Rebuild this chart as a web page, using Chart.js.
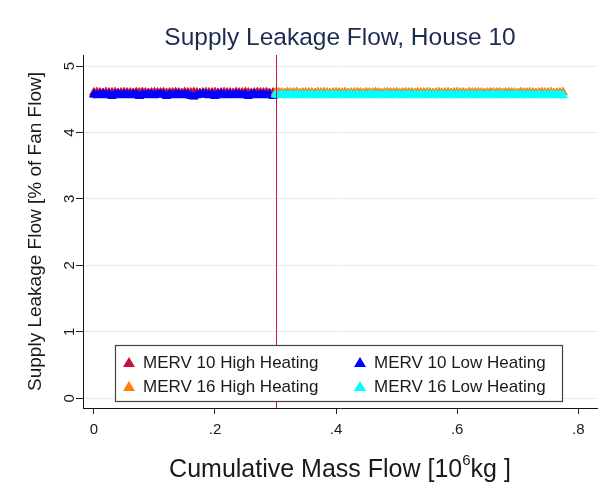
<!DOCTYPE html>
<html>
<head>
<meta charset="utf-8">
<script src="https://cdn.jsdelivr.net/npm/chart.js@4"></script>
<style>
  html, body { margin: 0; padding: 0; background: #fff; }
</style>
</head>
<body>
<canvas id="leakCanvas" width="603" height="504"></canvas>
<script>
const seriesNames = ["MERV 10 High Heating", "MERV 10 Low Heating", "MERV 16 High Heating", "MERV 16 Low Heating"]
const seriesColors = ["#c0143f", "#0000ff", "#ff7f0e", "#00ffff"]

// cumulative mass flow [10^6 kg]
const merv10X = [
    0, 0.005, 0.01, 0.015, 0.02, 0.025, 0.03, 0.035, 0.04, 0.045, 0.05, 0.055,
    0.06, 0.065, 0.07, 0.075, 0.08, 0.085, 0.09, 0.095, 0.10, 0.105, 0.11, 0.115,
    0.12, 0.125, 0.13, 0.135, 0.14, 0.145, 0.15, 0.155, 0.16, 0.165, 0.17, 0.175,
    0.18, 0.185, 0.19, 0.195, 0.20, 0.205, 0.21, 0.215, 0.22, 0.225, 0.23, 0.235,
    0.24, 0.245, 0.25, 0.255, 0.26, 0.265, 0.27, 0.275, 0.28, 0.285, 0.29, 0.296]
const merv16X = [
    0.30, 0.305, 0.31, 0.315, 0.32, 0.325, 0.33, 0.335, 0.34, 0.345, 0.35, 0.355,
    0.36, 0.365, 0.37, 0.375, 0.38, 0.385, 0.39, 0.395, 0.40, 0.405, 0.41, 0.415,
    0.42, 0.425, 0.43, 0.435, 0.44, 0.445, 0.45, 0.455, 0.46, 0.465, 0.47, 0.475,
    0.48, 0.485, 0.49, 0.495, 0.50, 0.505, 0.51, 0.515, 0.52, 0.525, 0.53, 0.535,
    0.54, 0.545, 0.55, 0.555, 0.56, 0.565, 0.57, 0.575, 0.58, 0.585, 0.59, 0.595,
    0.60, 0.605, 0.61, 0.615, 0.62, 0.625, 0.63, 0.635, 0.64, 0.645, 0.65, 0.655,
    0.66, 0.665, 0.67, 0.675, 0.68, 0.685, 0.69, 0.695, 0.70, 0.705, 0.71, 0.715,
    0.72, 0.725, 0.73, 0.735, 0.74, 0.745, 0.75, 0.755, 0.76, 0.765, 0.77, 0.775]

// supply leakage flow [% of fan flow]
const merv10HighY = [
    4.600, 4.605, 4.600, 4.595, 4.605, 4.600, 4.600, 4.605, 4.595, 4.600, 4.605, 4.600,
    4.600, 4.595, 4.605, 4.600, 4.605, 4.600, 4.595, 4.600, 4.605, 4.600, 4.600, 4.605,
    4.595, 4.600, 4.600, 4.605, 4.600, 4.595, 4.605, 4.600, 4.600, 4.605, 4.600, 4.595,
    4.600, 4.605, 4.600, 4.600, 4.605, 4.595, 4.600, 4.605, 4.600, 4.600, 4.595, 4.605,
    4.600, 4.600, 4.605, 4.600, 4.595, 4.600, 4.605, 4.600, 4.600, 4.605, 4.595, 4.600]
const merv10LowY = [
    4.57, 4.56, 4.57, 4.58, 4.56, 4.57, 4.55, 4.57, 4.58, 4.56, 4.57, 4.57,
    4.56, 4.58, 4.57, 4.55, 4.57, 4.56, 4.58, 4.57, 4.56, 4.57, 4.58, 4.57,
    4.55, 4.57, 4.56, 4.57, 4.58, 4.56, 4.57, 4.57, 4.55, 4.54, 4.56, 4.57,
    4.58, 4.57, 4.56, 4.57, 4.55, 4.57, 4.58, 4.56, 4.57, 4.57, 4.56, 4.58,
    4.57, 4.56, 4.57, 4.55, 4.57, 4.58, 4.56, 4.57, 4.57, 4.56, 4.57, 4.55]
const merv16HighY = [
    4.600, 4.605, 4.600, 4.595, 4.605, 4.600, 4.600, 4.605, 4.595, 4.600, 4.605, 4.600,
    4.600, 4.595, 4.605, 4.600, 4.605, 4.600, 4.595, 4.600, 4.605, 4.600, 4.600, 4.605,
    4.595, 4.600, 4.600, 4.605, 4.600, 4.595, 4.605, 4.600, 4.600, 4.605, 4.600, 4.595,
    4.600, 4.605, 4.600, 4.600, 4.605, 4.595, 4.600, 4.605, 4.600, 4.600, 4.595, 4.605,
    4.600, 4.600, 4.605, 4.600, 4.595, 4.600, 4.605, 4.600, 4.600, 4.605, 4.595, 4.600,
    4.605, 4.600, 4.600, 4.595, 4.605, 4.600, 4.600, 4.605, 4.600, 4.595, 4.600, 4.605,
    4.600, 4.600, 4.605, 4.595, 4.600, 4.605, 4.600, 4.600, 4.595, 4.605, 4.600, 4.600,
    4.605, 4.600, 4.595, 4.600, 4.605, 4.600, 4.600, 4.605, 4.595, 4.600, 4.600, 4.605]
const merv16LowY = [
    4.57, 4.56, 4.57, 4.57, 4.56, 4.57, 4.56, 4.57, 4.57, 4.56, 4.57, 4.56,
    4.57, 4.56, 4.57, 4.57, 4.56, 4.57, 4.56, 4.57, 4.57, 4.56, 4.57, 4.56,
    4.57, 4.57, 4.56, 4.57, 4.56, 4.57, 4.56, 4.57, 4.57, 4.56, 4.57, 4.56,
    4.57, 4.57, 4.56, 4.57, 4.56, 4.57, 4.56, 4.57, 4.57, 4.56, 4.57, 4.56,
    4.57, 4.56, 4.57, 4.57, 4.56, 4.57, 4.56, 4.57, 4.57, 4.56, 4.57, 4.56,
    4.57, 4.57, 4.56, 4.57, 4.56, 4.57, 4.56, 4.57, 4.57, 4.56, 4.57, 4.56,
    4.57, 4.56, 4.57, 4.57, 4.56, 4.57, 4.56, 4.57, 4.57, 4.56, 4.57, 4.56,
    4.57, 4.57, 4.56, 4.57, 4.56, 4.57, 4.56, 4.57, 4.57, 4.56, 4.57, 4.56]

const xTicks = [0, 0.2, 0.4, 0.6, 0.8]
const xTickLabels = ["0", ".2", ".4", ".6", ".8"]
const yTicks = [0, 1, 2, 3, 4, 5]
const filterSwitch = 0.3

const FONT = "'Liberation Sans', Arial, sans-serif"

function toPoints(xs, ys) {
    return xs.map((x, i) => ({ x: x, y: ys[i] }))
}

function triangle(ctx, cx, cy, w, h) {
    ctx.beginPath()
    ctx.moveTo(cx, cy - h / 2)
    ctx.lineTo(cx + w / 2, cy + h / 2)
    ctx.lineTo(cx - w / 2, cy + h / 2)
    ctx.closePath()
    ctx.fill()
}

const decorations = {
    id: "decorations",
    afterDatasetsDraw(chart) {
        const { ctx, chartArea: a, scales } = chart
        const xs = scales.x, ys = scales.y
        ctx.save()

        // filter change line
        const lx = Math.round(xs.getPixelForValue(filterSwitch)) + 0.5
        ctx.strokeStyle = "#c8174a"
        ctx.lineWidth = 1
        ctx.beginPath()
        ctx.moveTo(lx, a.top)
        ctx.lineTo(lx, a.bottom)
        ctx.stroke()

        // y tick labels, turned on their side
        ctx.fillStyle = "#1a1a1a"
        ctx.font = "15px " + FONT
        ctx.textAlign = "center"
        ctx.textBaseline = "middle"
        yTicks.forEach(v => {
            ctx.save()
            ctx.translate(70, ys.getPixelForValue(v))
            ctx.rotate(-Math.PI / 2)
            ctx.fillText(String(v), 0, 0)
            ctx.restore()
        })

        // y axis title
        ctx.save()
        ctx.font = "19px " + FONT
        ctx.translate(36, (a.top + a.bottom) / 2)
        ctx.rotate(-Math.PI / 2)
        ctx.fillText("Supply Leakage Flow [% of Fan Flow]", 0, 0)
        ctx.restore()

        // chart title
        const mid = (a.left + a.right) / 2
        ctx.fillStyle = "#1c2b50"
        ctx.font = "24.5px " + FONT
        ctx.fillText("Supply Leakage Flow, House 10", mid, 38)

        // x axis title with superscript
        ctx.fillStyle = "#1a1a1a"
        const p1 = "Cumulative Mass Flow [10", p2 = "6", p3 = "kg ]"
        ctx.font = "25px " + FONT
        const w1 = ctx.measureText(p1).width, w3 = ctx.measureText(p3).width
        ctx.font = "15px " + FONT
        const w2 = ctx.measureText(p2).width
        let tx = mid - (w1 + w2 + w3) / 2
        ctx.textAlign = "left"
        ctx.textBaseline = "alphabetic"
        ctx.font = "25px " + FONT
        ctx.fillText(p1, tx, 477)
        ctx.font = "15px " + FONT
        ctx.fillText(p2, tx + w1, 465)
        ctx.font = "25px " + FONT
        ctx.fillText(p3, tx + w1 + w2, 477)

        // legend
        const box = { l: 115, t: 345, r: 562, b: 401 }
        ctx.fillStyle = "#fff"
        ctx.fillRect(box.l, box.t, box.r - box.l, box.b - box.t)
        ctx.strokeStyle = "#444"
        ctx.lineWidth = 1.2
        ctx.strokeRect(box.l + 0.5, box.t + 0.5, box.r - box.l, box.b - box.t)
        ctx.font = "17px " + FONT
        ctx.textBaseline = "middle"
        const cols = [129, 360], rows = [362, 386]
        seriesNames.forEach((name, i) => {
            const cx = cols[i % 2], cy = rows[Math.floor(i / 2)]
            ctx.fillStyle = seriesColors[i]
            triangle(ctx, cx, cy, 12, 10)
            ctx.fillStyle = "#1a1a1a"
            ctx.fillText(name, cx + 14, cy + 1)
        })

        ctx.restore()
    }
}

const ySeries = [merv10HighY, merv10LowY, merv16HighY, merv16LowY]
const xSeries = [merv10X, merv10X, merv16X, merv16X]

new Chart(document.getElementById("leakCanvas"), {
    type: "scatter",
    data: {
        datasets: seriesNames.map((name, i) => ({
            label: name,
            data: toPoints(xSeries[i], ySeries[i]),
            pointStyle: "triangle",
            pointRadius: 5,
            pointHoverRadius: 5,
            backgroundColor: seriesColors[i],
            borderColor: seriesColors[i],
            borderWidth: 1,
            order: 4 - i
        }))
    },
    options: {
        responsive: false,
        animation: false,
        events: [],
        layout: { padding: { top: 55, right: 0, bottom: 0, left: 0 } },
        plugins: {
            legend: { display: false },
            title: { display: false },
            tooltip: { enabled: false }
        },
        scales: {
            x: {
                type: "linear",
                min: -0.018,
                max: 0.831,
                afterBuildTicks: s => { s.ticks = xTicks.map(v => ({ value: v })) },
                afterFit: s => { s.height = 96 },
                ticks: {
                    color: "#1a1a1a",
                    font: { family: FONT, size: 15 },
                    padding: 7,
                    maxRotation: 0,
                    callback: v => xTickLabels[xTicks.indexOf(v)]
                },
                grid: { drawOnChartArea: false, drawTicks: true, tickLength: 6, tickColor: "#222" },
                border: { color: "#111", width: 1 }
            },
            y: {
                type: "linear",
                min: -0.146,
                max: 5.166,
                afterBuildTicks: s => { s.ticks = yTicks.map(v => ({ value: v })) },
                afterFit: s => { s.width = 83 },
                ticks: { display: false },
                grid: { color: "#e6eef0", lineWidth: 1, drawTicks: true, tickLength: 7, tickColor: "#222" },
                border: { color: "#111", width: 1 }
            }
        }
    },
    plugins: [decorations]
})
</script>
</body>
</html>
